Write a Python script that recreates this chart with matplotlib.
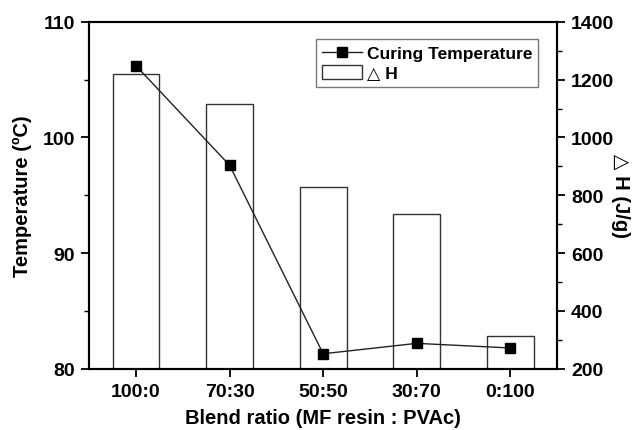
import matplotlib
matplotlib.use('Agg')
import matplotlib.pyplot as plt
from matplotlib.ticker import MultipleLocator
import numpy as np

plt.rcParams['font.family'] = ['Liberation Sans', 'DejaVu Sans']
plt.rcParams['font.weight'] = 'bold'

ratios = ['100:0', '70:30', '50:50', '30:70', '0:100']
curing_temp = [106.2, 97.6, 81.3, 82.2, 81.8]
delta_h = [1218, 1115, 830, 735, 312]

fig, ax = plt.subplots(figsize=(6.33, 4.31), dpi=100)
fig.subplots_adjust(left=0.141, right=0.88, top=0.947, bottom=0.142)
ax2 = ax.twinx()

x = np.arange(len(ratios))
bars = ax2.bar(x, delta_h, width=0.5, bottom=0, facecolor='white',
               edgecolor='#333333', linewidth=1.0, label='\u25b3H')
ax2.set_ylim(200, 1400)
ax2.yaxis.set_major_locator(MultipleLocator(200))
ax2.yaxis.set_minor_locator(MultipleLocator(100))

ax.set_zorder(ax2.get_zorder() + 1)
ax.patch.set_visible(False)
line, = ax.plot(x, curing_temp, color='#222222', linewidth=1.0, marker='s',
                markersize=6.5, markerfacecolor='black', markeredgecolor='black',
                label='Curing Temperature')
ax.set_ylim(80, 110)
ax.set_xlim(-0.5, 4.5)
ax.yaxis.set_major_locator(MultipleLocator(10))
ax.yaxis.set_minor_locator(MultipleLocator(5))
ax.set_xticks(x)
ax.set_xticklabels(ratios)

for a in (ax, ax2):
    for s in a.spines.values():
        s.set_linewidth(1.5)
    a.tick_params(which='major', length=6, width=1.3, labelsize=14, direction='out', pad=4)
    a.tick_params(which='minor', length=3.5, width=1.0, direction='out')

ax.set_xlabel('Blend ratio (MF resin : PVAc)', fontsize=14.5, fontweight='bold', labelpad=6)
ax.set_ylabel('Temperature (ºC)', fontsize=14.5, fontweight='bold')
ax.yaxis.set_label_coords(-0.142, 0.5)
ax.yaxis.label.set_va('center')
ax2.set_ylabel('\u25b3 H (J/g)', fontsize=14.5, fontweight='bold', rotation=270)
ax2.yaxis.set_label_coords(1.135, 0.5)
ax2.yaxis.label.set_va('center')
ax2.yaxis.label.set_ha('center')

leg = ax.legend([line, bars], ['Curing Temperature', '\u25b3 H'],
                loc='upper right', bbox_to_anchor=(0.96, 0.95), fontsize=12.5,
                frameon=True, fancybox=False, edgecolor='#555555',
                handlelength=2.3, handleheight=0.9, handletextpad=0.25, borderpad=0.35,
                labelspacing=0.2, borderaxespad=0)
leg.get_frame().set_linewidth(1.0)
for t in leg.get_texts():
    t.set_fontweight('bold')

fig.savefig('out.png', dpi=100)
